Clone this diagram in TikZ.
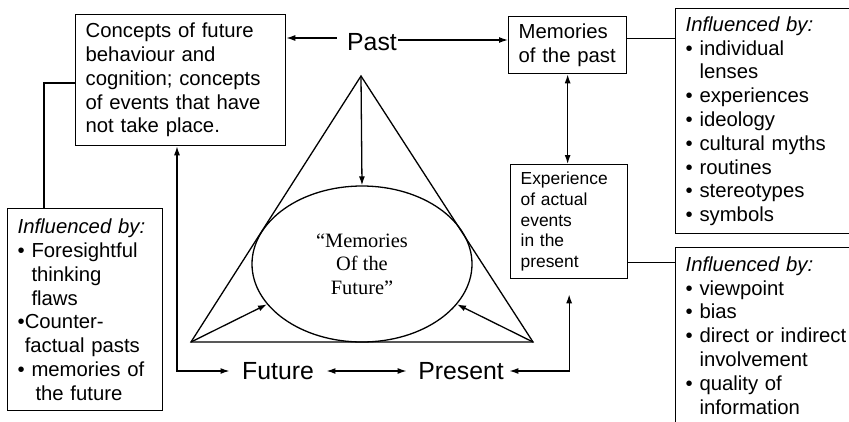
\documentclass[tikz,border=0pt]{standalone}
\usepackage{fontspec}
\setmainfont{Liberation Sans}
\newfontfamily\serifface{Liberation Serif}
\usetikzlibrary{arrows.meta,shapes.geometric,calc}

\tikzset{
  every picture/.style={line width=1.3pt},
  boxed/.style={draw, align=left, anchor=north west, inner xsep=10pt, inner ysep=4pt,
                font=\fontsize{20.3}{23.8}\selectfont},
  smallbox/.style={boxed, font=\fontsize{17.4}{20.6}\selectfont},
  timelabel/.style={inner sep=0pt, font=\fontsize{24.8}{28}\selectfont},
  arr/.style={-{Latex[length=9pt,width=6pt]}},
  darr/.style={{Latex[length=9pt,width=6pt]}-{Latex[length=9pt,width=6pt]}},
}
\newcommand\infl{\textit{Influenced by:}}
\newcommand\bul{•\ }
\newcommand\hang{\hphantom{•\ }}

\begin{document}
\begin{tikzpicture}[x=1pt,y=-1pt]
  \useasboundingbox (0,0) rectangle (849,421);
  \clip (0,0) rectangle (849,421);

  % text boxes
  \node[boxed, text width=190pt, minimum height=131pt] (A) at (75,14)
    {Concepts of future\\behaviour and\\cognition; concepts\\of events that have\\not take place.};
  \node[boxed, text width=98pt, minimum height=57pt] (Mem) at (508,16)
    {Memories\\of the past};
  \node[smallbox, text width=97pt, minimum height=114pt] (Exp) at (510,164)
    {Experience\\of actual\\events\\in the\\present};
  \node[boxed, text width=180pt, minimum height=225pt] (InfT) at (675,8)
    {\infl\\\bul individual\\\hang lenses\\\bul experiences\\\bul ideology\\\bul cultural myths\\\bul routines\\\bul stereotypes\\\bul symbols};
  \node[boxed, text width=180pt, inner ysep=9pt] (InfB) at (675,247)
    {\infl\\\bul viewpoint\\\bul bias\\\bul direct or indirect\\\hang involvement\\\bul quality of\\\hang information};
  \node[boxed, text width=135pt, minimum height=202pt] (InfL) at (7,208)
    {\infl\\\bul Foresightful\\\hang thinking\\\hang flaws\\•Counter-\\\hphantom{•}factual pasts\\\bul memories of\\\hang\hspace{4pt}the future};

  % time labels
  \node[timelabel] (Past) at (372,42) {Past};
  \node[timelabel] (Future) at (278,371) {Future};
  \node[timelabel] (Present) at (461,371) {Present};

  % triangle with the central ellipse
  \coordinate (ap) at (361,76);
  \coordinate (bl) at (191,342);
  \coordinate (br) at (533,342);
  \draw[line join=miter] (ap) -- (bl) -- (br) -- cycle;
  \node[draw, ellipse, minimum width=220pt, minimum height=156pt, inner sep=0pt,
        align=center, font=\serifface\fontsize{20.4}{23.5}\selectfont] (mof) at (362,264)
    {“Memories\\Of the\\Future”};
  \draw[arr] (ap) -- (mof.north);
  \draw[arr] (bl) -- (mof.203);
  \draw[arr] (br) -- (mof.337);

  % Past to the two upper boxes
  \coordinate (pw) at ([xshift=-10pt,yshift=4pt]Past.west);
  \coordinate (pe) at ([xshift=1pt,yshift=2pt]Past.east);
  \draw[arr] (pw) -- (pw -| A.east);
  \draw[arr] (pe) -- (pe -| Mem.west);

  % memories and experience
  \draw[darr] (Mem.south) -- (Mem.south |- Exp.north);
  \coordinate (mk) at ([yshift=6.5pt]Mem.east);
  \draw (mk) -- (mk -| InfT.west);
  \coordinate (ek) at ([yshift=-41pt]Exp.east);
  \draw (ek) -- (ek -| InfB.west);

  % left influence box
  \coordinate (lk) at (44,83);
  \draw (lk -| A.west) -- (lk) -- (lk |- InfL.north);

  % future and present links
  \coordinate (fk) at (177,371);
  \draw[darr, shorten >=12pt] (A.south -| fk) |- (Future.west);
  \draw[darr, shorten <=12pt, shorten >=11pt] (Future.east) -- (Present.west);
  \draw[darr, shorten <=5pt, shorten >=15pt] (Present.east) -| (Exp.south);
\end{tikzpicture}
\end{document}
